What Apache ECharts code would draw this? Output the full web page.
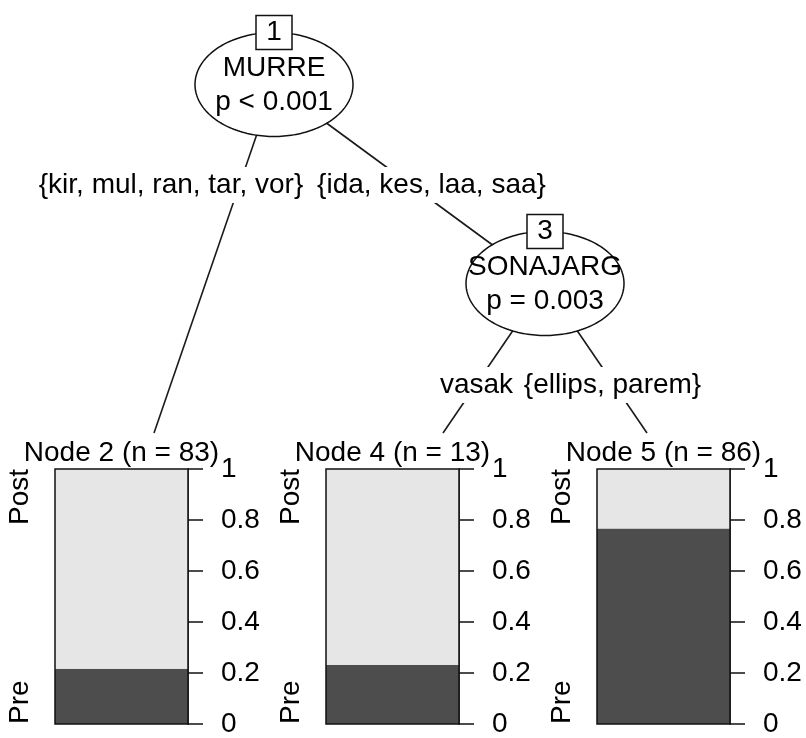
<!DOCTYPE html>
<html><head><meta charset="utf-8">
<script src="https://cdn.jsdelivr.net/npm/echarts@6/dist/echarts.min.js"></script>
<style>html,body{margin:0;padding:0;background:#fff}#c{width:806px;height:738px}</style>
</head><body><div id="c"></div>
<script>
// ---------- data ----------
const innerNodeIds = [1, 3];
const innerNodeVars = ['MURRE', 'SONAJARG'];
const innerNodePvals = ['p < 0.001', 'p = 0.003'];
const edgeLabelTexts = ['{kir, mul, ran, tar, vor}', '{ida, kes, laa, saa}', 'vasak', '{ellips, parem}'];
const leafNodeIds = [2, 4, 5];
const leafNodeN = [83, 13, 86];
const responseLevels = ['Pre', 'Post'];
const preShare = [0.217, 0.231, 0.767];
const postShare = [0.783, 0.769, 0.233];
const yTickValues = [0, 0.2, 0.4, 0.6, 0.8, 1];

// ---------- layout & style ----------
const FONT_FAMILY = '"Liberation Sans", Arial, sans-serif';
const FS = 28;
const INK = '#111';
const PRE_COLOR = '#4D4D4D', POST_COLOR = '#E6E6E6';
const innerPos = [[274, 84.5], [545, 283.5]];
const ELL = { rx: 79, ry: 52 };
const leafAnchor = [[154, 433], [443, 433], [647, 433]];
const edgeDefs = [['i', 0, 'l', 0], ['i', 0, 'i', 1], ['i', 1, 'l', 1], ['i', 1, 'l', 2]];
const edgeLabelPos = [[171, 185], [431.5, 185], [476.5, 385], [612.5, 385]];
const panelLeft = [55, 326, 597];
const PANEL_TOP = 469, PANEL_W = 133, PANEL_H = 258;

const font = (s) => s + 'px ' + FONT_FAMILY;
const pt = (t, k) => (t === 'i' ? innerPos[k] : leafAnchor[k]);

const grids = [], xAxes = [], yAxes = [], series = [];
for (let i = 0; i < 3; i++) {
  grids.push({ left: panelLeft[i], top: PANEL_TOP, width: PANEL_W, height: PANEL_H, containLabel: false });
  xAxes.push({ type: 'category', gridIndex: i, data: ['n'], show: false, boundaryGap: true });
  yAxes.push({
    type: 'value', gridIndex: i, position: 'right', min: yTickValues[0], max: yTickValues[yTickValues.length - 1],
    interval: yTickValues[1] - yTickValues[0],
    axisLine: { show: true, lineStyle: { color: INK, width: 1.5 } },
    axisTick: { show: true, inside: false, length: 15, lineStyle: { color: INK, width: 1.5 } },
    splitLine: { show: false },
    axisLabel: { show: true, margin: 33, color: '#000', fontSize: FS, fontFamily: FONT_FAMILY, align: 'left',
      showMinLabel: true, showMaxLabel: true, formatter: (v) => String(Math.round(v * 10) / 10) }
  });
  series.push({ type: 'bar', name: responseLevels[0], xAxisIndex: i, yAxisIndex: i, stack: 's' + i,
    barWidth: '100%', data: [preShare[i]], itemStyle: { color: PRE_COLOR } });
  series.push({ type: 'bar', name: responseLevels[1], xAxisIndex: i, yAxisIndex: i, stack: 's' + i,
    barWidth: '100%', data: [postShare[i]], itemStyle: { color: POST_COLOR } });
  // panel frame, node title, level labels
  series.push({
    type: 'custom', xAxisIndex: i, yAxisIndex: i, z: 5, data: [[0]], clip: false,
    renderItem: (params, api) => {
      const cs = params.coordSys;
      return { type: 'group', children: [
        { type: 'rect', shape: { x: cs.x, y: cs.y, width: cs.width, height: cs.height },
          style: { fill: null, stroke: INK, lineWidth: 1.5 } },
        { type: 'text', x: cs.x + cs.width / 2, y: cs.y - 16,
          style: { text: 'Node ' + leafNodeIds[i] + ' (n = ' + leafNodeN[i] + ')', font: font(FS), fill: '#000',
            align: 'center', verticalAlign: 'middle' } },
        { type: 'text', x: cs.x - 35, y: cs.y, rotation: Math.PI / 2,
          style: { text: responseLevels[1], font: font(FS), fill: '#000', align: 'right', verticalAlign: 'middle' } },
        { type: 'text', x: cs.x - 35, y: cs.y + cs.height, rotation: Math.PI / 2,
          style: { text: responseLevels[0], font: font(FS), fill: '#000', align: 'left', verticalAlign: 'middle' } }
      ] };
    }
  });
}

// overlay layout grid for the tree
grids.push({ left: 0, top: 0, width: 806, height: 738 });
xAxes.push({ type: 'value', gridIndex: 3, min: 0, max: 806, show: false });
yAxes.push({ type: 'value', gridIndex: 3, min: 0, max: 738, inverse: true, show: false });

series.push({
  type: 'custom', xAxisIndex: 3, yAxisIndex: 3, z: 1, clip: false,
  data: edgeDefs.map(e => { const a = pt(e[0], e[1]), b = pt(e[2], e[3]); return [a[0], a[1], b[0], b[1]]; }),
  renderItem: (params, api) => {
    const a = api.coord([api.value(0), api.value(1)]);
    const b = api.coord([api.value(2), api.value(3)]);
    return { type: 'line', shape: { x1: a[0], y1: a[1], x2: b[0], y2: b[1] }, style: { stroke: '#1a1a1a', lineWidth: 1.6 } };
  }
});
series.push({
  type: 'custom', xAxisIndex: 3, yAxisIndex: 3, z: 2, clip: false,
  data: edgeLabelPos,
  renderItem: (params, api) => {
    const c = api.coord([api.value(0), api.value(1)]);
    return { type: 'text', x: c[0], y: c[1],
      style: { text: edgeLabelTexts[params.dataIndex], font: font(FS), fill: '#000', align: 'center', verticalAlign: 'middle',
        backgroundColor: '#fff', padding: [4, 3] } };
  }
});
series.push({
  type: 'custom', xAxisIndex: 3, yAxisIndex: 3, z: 3, clip: false,
  data: innerPos,
  renderItem: (params, api) => {
    const i = params.dataIndex;
    const c = api.coord([api.value(0), api.value(1)]);
    const pts = [];
    for (let k = 0; k < 200; k++) { const t = k / 200 * 2 * Math.PI; pts.push([c[0] + ELL.rx * Math.cos(t), c[1] + ELL.ry * Math.sin(t)]); }
    const txt = (s, y) => ({ type: 'text', x: c[0], y: y,
      style: { text: s, font: font(FS), fill: '#000', align: 'center', verticalAlign: 'middle' } });
    return { type: 'group', children: [
      { type: 'polygon', shape: { points: pts }, style: { fill: '#fff', stroke: INK, lineWidth: 1.5 } },
      { type: 'rect', shape: { x: c[0] - 18, y: c[1] - ELL.ry - 17, width: 36, height: 34 }, style: { fill: '#fff', stroke: INK, lineWidth: 1.5 } },
      txt(String(innerNodeIds[i]), c[1] - ELL.ry),
      txt(innerNodeVars[i], c[1] - 16),
      txt(innerNodePvals[i], c[1] + 18)
    ] };
  }
});

const chart = echarts.init(document.getElementById('c'), null, { renderer: 'canvas' });
chart.setOption({ animation: false, backgroundColor: '#fff', grid: grids, xAxis: xAxes, yAxis: yAxes, series: series });
</script></body></html>
